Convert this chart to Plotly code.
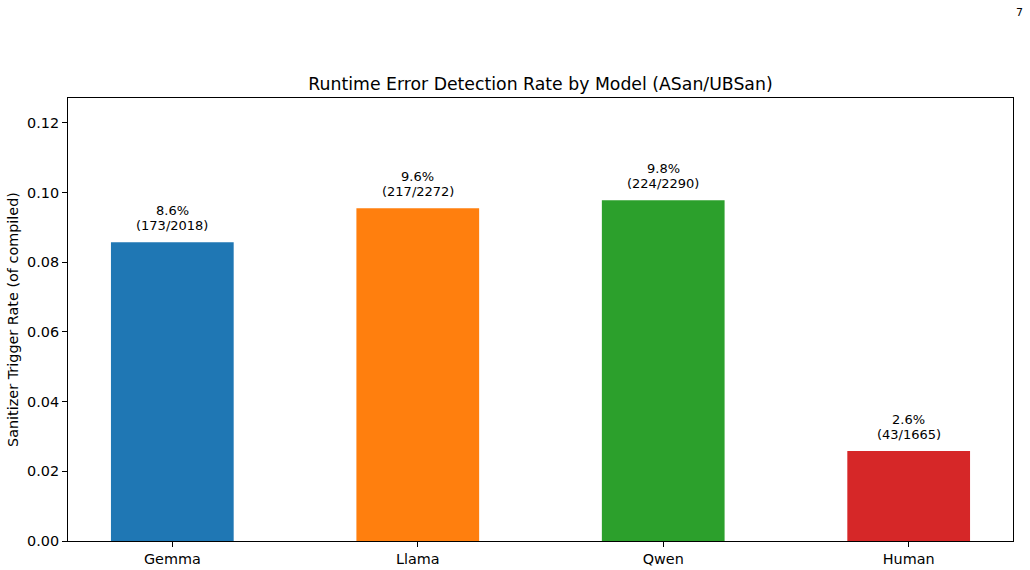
import plotly.graph_objects as go

models = ["Gemma", "Llama", "Qwen", "Human"]
triggered = [173, 217, 224, 43]
compiled = [2018, 2272, 2290, 1665]
colors = ["#1f77b4", "#ff7f0e", "#2ca02c", "#d62728"]

rates = [t / c for t, c in zip(triggered, compiled)]
xpos = list(range(len(models)))

fig = go.Figure()
fig.add_trace(go.Bar(
    x=xpos, y=rates, width=0.5,
    marker=dict(color=colors, line=dict(width=0)),
    showlegend=False, hoverinfo="skip",
))

font = "DejaVu Sans, sans-serif"
for x, r, t, c in zip(xpos, rates, triggered, compiled):
    for txt, shift in ((f"{r*100:.1f}%", 32), (f"({t}/{c})", 17)):
        fig.add_annotation(
            x=x, y=r, xref="x", yref="y", text=txt,
            showarrow=False, yanchor="middle", yshift=shift,
            font=dict(family=font, size=13, color="#000"),
        )

fig.add_annotation(
    x=(1020 - 68) / (1013 - 68), y=(541 - 12) / (541 - 98),
    xref="paper", yref="paper", text="7", showarrow=False,
    xanchor="center", yanchor="middle",
    font=dict(family=font, size=11, color="#000"),
)

ymax = max(rates) * 1.3
fig.update_layout(
    width=1030, height=570,
    margin=dict(l=68, r=17, t=98, b=29, pad=0),
    paper_bgcolor="white", plot_bgcolor="white",
    font=dict(family=font, size=14.4, color="#000"),
    title=dict(text="Runtime Error Detection Rate by Model (ASan/UBSan)",
               x=(68 + 1013) / 2 / 1030, xanchor="center",
               y=1 - 84 / 570, yanchor="middle",
               font=dict(family=font, size=17.3, color="#000")),
    xaxis=dict(range=[-0.425, 3.425], tickmode="array", tickvals=xpos, ticktext=models,
               automargin=False,
               showgrid=False, zeroline=False, showline=True, linecolor="#000", linewidth=1,
               mirror=True, ticks="outside", ticklen=5, tickwidth=1, tickcolor="#000",
               tickfont=dict(family=font, size=14.4)),
    yaxis=dict(range=[0, ymax], tickmode="array", automargin=False,
               tickvals=[0, 0.02, 0.04, 0.06, 0.08, 0.10, 0.12],
               ticktext=["0.00", "0.02", "0.04", "0.06", "0.08", "0.10", "0.12"],
               showgrid=False, zeroline=False, showline=True, linecolor="#000", linewidth=1,
               mirror=True, ticks="outside", ticklen=5, tickwidth=1, tickcolor="#000",
               tickfont=dict(family=font, size=14.4),
               title=dict(text="Sanitizer Trigger Rate (of compiled)", standoff=5,
                          font=dict(family=font, size=14.4))),
)

fig.write_html("out.html")
